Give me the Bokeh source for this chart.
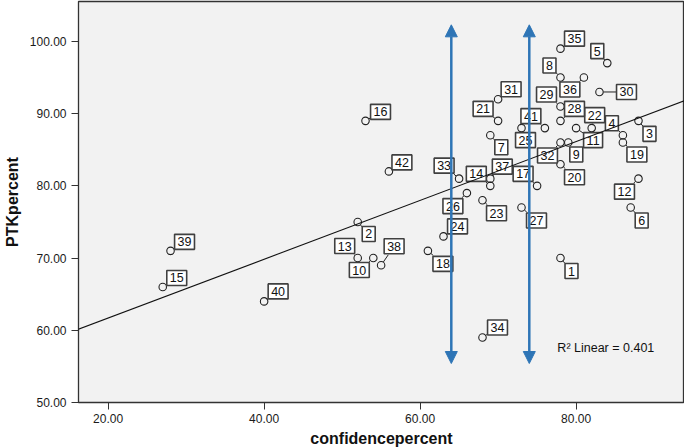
import numpy as np
from bokeh.plotting import figure
from bokeh.models import (Range1d, FixedTicker, PrintfTickFormatter, Arrow,
                          NormalHead, Label, Slope, ColumnDataSource)
from bokeh.core.properties import value
from bokeh.embed import file_html
from bokeh.resources import INLINE

# ---------------- data ----------------
case_ids = list(range(1, 43))
confidence = [78, 52, 88, 86, 84, 87, 69, 78, 79, 54, 80, 88, 52, 69, 27, 53, 75, 61, 86, 78, 70,
              82, 68, 63, 73, 66, 73, 78, 78, 83, 70, 78, 65, 68, 78, 81, 69, 55, 28, 40, 76, 56]
ptk = [70, 75, 89, 87, 97, 77, 87, 95, 86, 70, 88, 81, 70, 80, 66, 89, 80, 71, 86, 83, 89,
       88, 78, 73, 88, 79, 77, 89, 91, 93, 92, 86, 81, 59, 99, 95, 81, 69, 71, 64, 88, 82]
x_ticks = [20, 40, 60, 80]
y_ticks = [50, 60, 70, 80, 90, 100]
arrow_positions = [64, 74]        # confidencepercent of the two blue arrows
arrow_span = [55.4, 102.3]        # PTKpercent from / to

# ---------------- layout (screen px offsets of the case labels) ----------------
label_dx = [11, 11, 11, -11, -10, 11, 11, -11, 8, -14, 17, -14, -13, -14, 14, 15, -14, 15, 14, 14, -15,
            3, 14, 14, 4, -14, 15, 14, -14, 27, 13, -13, -15, 15, 14, -14, 12, 13, 14, 14, -14, 13]
label_dy = [13, 12, 13, -12, -12, 13, 12, -12, 12, 12, 12, 13, -12, -12, -9, -9, -12, 13, 12, 13, -12,
            -13, 13, -10, 12, 13, 13, -12, -12, 0, -10, 13, -13, -10, -10, 12, -12, -19, -9, -10, -12, -9]

FONT = "Liberation Sans"
X0, X1 = 16.2, 93.9
Y0, Y1 = 50.0, 105.53
FW, FH = 606, 401

p = figure(frame_width=FW, frame_height=FH, output_backend="svg", toolbar_location=None,
           x_range=Range1d(X0, X1), y_range=Range1d(Y0, Y1),
           min_border_left=70, min_border_right=0, min_border_top=1, min_border_bottom=0,
           background_fill_color="#F2F2F2", border_fill_color="white")
p.outline_line_color = "#333333"
p.outline_line_width = 1.3
p.grid.visible = False

for ax in (p.xaxis[0], p.yaxis[0]):
    ax.axis_line_color = "#333333"
    ax.major_tick_line_color = "#333333"
    ax.major_tick_out = 7
    ax.major_tick_in = 0
    ax.minor_tick_line_color = None
    ax.major_label_text_font = FONT
    ax.major_label_text_font_size = "12px"
    ax.major_label_text_color = "#1a1a1a"
    ax.axis_label_text_font = FONT
    ax.axis_label_text_font_style = "bold"
    ax.axis_label_text_font_size = "16px"
    ax.axis_label_text_color = "#111111"
    ax.formatter = PrintfTickFormatter(format="%.2f")

p.xaxis.ticker = FixedTicker(ticks=x_ticks)
p.yaxis.ticker = FixedTicker(ticks=y_ticks)
p.xaxis.axis_label = "confidencepercent"
p.yaxis.axis_label = "PTKpercent"
p.xaxis.major_label_standoff = 4
p.xaxis.axis_label_standoff = 4
p.yaxis.major_label_standoff = 5
p.yaxis.axis_label_standoff = 6

# regression line
x = np.array(confidence, dtype=float)
y = np.array(ptk, dtype=float)
b, a = np.polyfit(x, y, 1)
r2 = np.corrcoef(x, y)[0, 1] ** 2
p.add_layout(Slope(gradient=b, y_intercept=a, line_color="#111111", line_width=1.1))

# leader lines from each point to its label box
ppx = FW / (X1 - X0)
ppy = FH / (Y1 - Y0)
sx0, sy0, sx1, sy1 = [], [], [], []
for cid, cx, cy, dx, dy in zip(case_ids, confidence, ptk, label_dx, label_dy):
    L = (dx * dx + dy * dy) ** 0.5
    hw = (6.7 * len(str(cid)) + 6) / 2
    hh = 8.5
    fx = hw / abs(dx) if dx else 1e9
    fy = hh / abs(dy) if dy else 1e9
    t_end = 1 - min(fx, fy)
    t_start = 4.0 / L
    if t_end > t_start:
        sx0.append(cx + t_start * dx / ppx)
        sy0.append(cy - t_start * dy / ppy)
        sx1.append(cx + t_end * dx / ppx)
        sy1.append(cy - t_end * dy / ppy)
p.segment(sx0, sy0, sx1, sy1, line_color="#222222", line_width=1)

src = ColumnDataSource(dict(x=confidence, y=ptk, lab=[str(c) for c in case_ids],
                            dx=label_dx, dy=label_dy))
p.scatter("x", "y", source=src, marker="circle", size=7.5, fill_color=None,
          line_color="#222222", line_width=1.1)
p.text("x", "y", text="lab", x_offset="dx", y_offset="dy", source=src,
       text_font=value(FONT), text_font_size="12.5px", text_color="#111111",
       text_align="center", text_baseline="middle",
       background_fill_color="white", border_line_color="#404040", border_line_width=1.6,
       padding=3)

# blue double-headed arrows
for xa in arrow_positions:
    p.add_layout(Arrow(start=NormalHead(size=12, fill_color="#2E75B6", line_color="#2E75B6"),
                       end=NormalHead(size=12, fill_color="#2E75B6", line_color="#2E75B6"),
                       x_start=xa, y_start=arrow_span[0], x_end=xa, y_end=arrow_span[1],
                       line_color="#2E75B6", line_width=2.5))

p.add_layout(Label(x=77.6, y=57.6, text=f"R\u00b2 Linear = {r2:.3f}", text_font=FONT,
                   text_font_size="12.5px", text_color="#111111", text_baseline="middle"))

open("out.html", "w").write(file_html(p, INLINE))
